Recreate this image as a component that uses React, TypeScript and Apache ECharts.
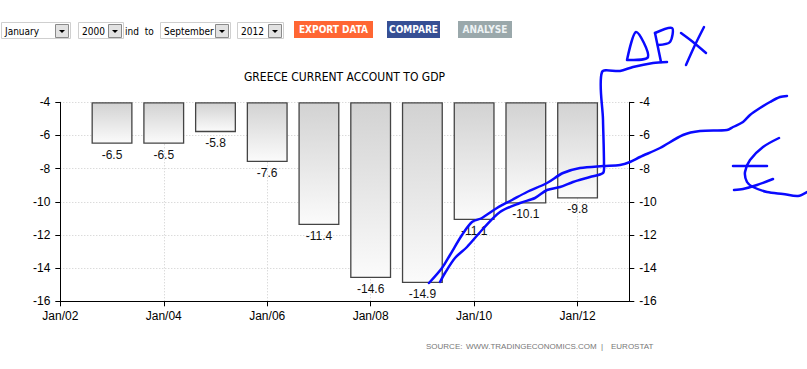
import React, { useEffect, useRef } from "react";
import * as echarts from "echarts";

const years = [2003, 2004, 2005, 2006, 2007, 2008, 2009, 2010, 2011, 2012];
const values = [-6.5, -6.5, -5.8, -7.6, -11.4, -14.6, -14.9, -11.1, -10.1, -9.8];
const xTickYears = [2002, 2004, 2006, 2008, 2010, 2012];
const slotYears = [2002, 2003, 2004, 2005, 2006, 2007, 2008, 2009, 2010, 2011, 2012, 2013];
const yMin = -16;
const yMax = -4;
const yStep = 2;
const barTop = -4;
const title = "GREECE CURRENT ACCOUNT TO GDP";

const FONT = "'Liberation Sans', Arial, sans-serif";
const CFONT = "'DejaVu Sans Condensed', 'Liberation Sans Narrow', 'Liberation Sans', sans-serif";
const BLUE = "#0a0aff";

// hand-drawn annotation strokes (pixel coordinates on the page)
const inkStrokes: number[][][] = [
  [[429, 283], [442, 268], [450, 255], [462, 235], [472, 222], [482, 218], [497, 208], [512, 200], [527, 192], [547, 183], [563, 173], [580, 168], [603, 166], [620, 165], [630, 162], [640, 157], [660, 148], [683, 135], [700, 131], [727, 130], [733, 127], [743, 122], [750, 115], [760, 108], [770, 102], [780, 97], [787, 96]],
  [[440, 282], [445, 273], [455, 258], [467, 247], [482, 230], [500, 212], [520, 203], [535, 198], [547, 190], [560, 187], [573, 182], [590, 177], [603, 173], [604, 165], [603, 120], [602, 72], [620, 71], [633, 67], [653, 63], [667, 62]],
  [[627, 60], [636, 32], [648, 57], [627, 60]],
  [[655, 33], [661, 62]],
  [[655, 33], [672, 28], [670, 42], [658, 45]],
  [[681, 33], [693, 42], [706, 53]],
  [[704, 27], [695, 45], [686, 65]],
  [[779, 138], [763, 147], [750, 160], [745, 172], [747, 182], [753, 187], [767, 192], [783, 194], [798, 196], [807, 192]],
  [[733, 166], [767, 166]],
  [[734, 190], [743, 189], [757, 185], [773, 179]],
];

function selectBox(x: number, w: number, text: string) {
  const bx = x + w - 15;
  return [
    { type: "rect", shape: { x: x + 0.5, y: 22.5, width: w, height: 16 }, style: { fill: "#fff", stroke: "#cfcfcf", lineWidth: 1 } },
    { type: "text", x: x + 4, y: 31, style: { text, font: `10px ${CFONT}`, fill: "#000", verticalAlign: "middle" } },
    { type: "rect", shape: { x: bx + 0.5, y: 24.5, width: 13, height: 13 }, style: { fill: "#e2e2e2", stroke: "#8a8a8a", lineWidth: 1 } },
    { type: "polygon", shape: { points: [[bx + 4, 30], [bx + 10, 30], [bx + 7, 33]] }, style: { fill: "#000" } },
  ];
}

function button(x: number, w: number, text: string, fill: string, color: string) {
  return [
    { type: "rect", shape: { x, y: 21, width: w, height: 17 }, style: { fill } },
    { type: "text", x: x + w / 2, y: 29.5, style: { text, font: `bold 10px ${CFONT}`, fill: color, align: "center", verticalAlign: "middle" } },
  ];
}

export default function App() {
  const ref = useRef<HTMLDivElement>(null);
  useEffect(() => {
    if (!ref.current) return;
    const chart = echarts.init(ref.current, null, { renderer: "svg" });
    const idx = (y: number) => years.indexOf(y);
    const baseData = slotYears.map((y) => (idx(y) >= 0 ? barTop : null));
    const diffData = slotYears.map((y) => (idx(y) >= 0 ? +(values[idx(y)] - barTop).toFixed(2) : null));
    const yAxisCommon = {
      type: "value",
      min: yMin,
      max: yMax,
      interval: yStep,
      axisLine: { show: true, lineStyle: { color: "#000", width: 1 } },
      axisTick: { show: true, inside: false, length: 5, lineStyle: { color: "#000" } },
      axisLabel: { color: "#000", fontSize: 12, fontFamily: FONT, margin: 10 },
    };
    const src = (x: number, text: string) => ({
      type: "text", x, y: 346, style: { text, font: `8px ${FONT}`, fill: "#777", verticalAlign: "middle" },
    });
    const graphics: any[] = [
      ...selectBox(1, 69, "January"),
      ...selectBox(78, 45, "2000"),
      { type: "text", x: 125, y: 31, style: { text: "ind  to", font: `10px ${CFONT}`, fill: "#000", verticalAlign: "middle" } },
      ...selectBox(160, 70, "September"),
      ...selectBox(237, 46, "2012"),
      ...button(294, 79, "EXPORT DATA", "#ff6633", "#fff"),
      ...button(387, 53, "COMPARE", "#364f94", "#fff"),
      ...button(458, 54, "ANALYSE", "#9aa8ab", "#eef3f4"),
      { type: "text", x: 344.5, y: 77, style: { text: title, font: `12px ${CFONT}`, fill: "#000", align: "center", verticalAlign: "middle" } },
      src(426, "SOURCE:"),
      src(466, "WWW.TRADINGECONOMICS.COM"),
      src(601, "|"),
      src(611, "EUROSTAT"),
      ...inkStrokes.map((pts) => ({
        type: "polyline",
        z: 100,
        shape: { points: pts, smooth: 0.3 },
        style: { stroke: BLUE, lineWidth: 2.5, fill: null, lineCap: "round", lineJoin: "round" },
      })),
    ];
    chart.setOption({
      animation: false,
      backgroundColor: "#fff",
      grid: { left: 60.3, right: 177.7, top: 102.3, bottom: 67.7, containLabel: false },
      xAxis: [
        {
          type: "value",
          min: 2002,
          max: 2013,
          interval: 2,
          axisLine: { show: true, onZero: false, lineStyle: { color: "#000", width: 1 } },
          axisTick: { show: true, length: 5, customValues: xTickYears, lineStyle: { color: "#000" } },
          axisLabel: {
            customValues: xTickYears,
            color: "#000",
            fontSize: 12,
            fontFamily: FONT,
            margin: 9,
            formatter: (v: number) => "Jan/" + String(Math.round(v) % 100).padStart(2, "0"),
          },
          splitLine: { show: true, lineStyle: { color: "#cccccc", type: [1, 2], width: 1 } },
        },
        {
          type: "category",
          data: slotYears.map(String),
          boundaryGap: false,
          position: "bottom",
          show: false,
        },
      ],
      yAxis: [
        {
          ...yAxisCommon,
          position: "left",
          splitLine: { show: true, lineStyle: { color: "#cccccc", type: [1, 2], width: 1 } },
        },
        { ...yAxisCommon, position: "right", splitLine: { show: false } },
      ],
      series: [
        {
          type: "bar",
          stack: "s",
          xAxisIndex: 1,
          data: baseData,
          barWidth: 41,
          silent: true,
          itemStyle: { color: "rgba(0,0,0,0)", borderWidth: 0 },
        },
        {
          type: "bar",
          stack: "s",
          xAxisIndex: 1,
          data: diffData,
          barWidth: 41,
          itemStyle: {
            color: new echarts.graphic.LinearGradient(0, 0, 0, 1, [
              { offset: 0, color: "#d2d2d2" },
              { offset: 1, color: "#fbfbfb" },
            ]),
            borderColor: "#444",
            borderWidth: 1.3,
          },
          label: {
            show: true,
            position: "outside",
            distance: 5,
            color: "#111",
            fontSize: 12,
            fontFamily: FONT,
            formatter: (p: any) => values[years.indexOf(Number(p.name))].toFixed(1),
          },
        },
      ],
      graphic: graphics,
    });
    return () => chart.dispose();
  }, []);
  return <div ref={ref} style={{ position: "fixed", left: 0, top: 0, width: 807, height: 369 }} />;
}
